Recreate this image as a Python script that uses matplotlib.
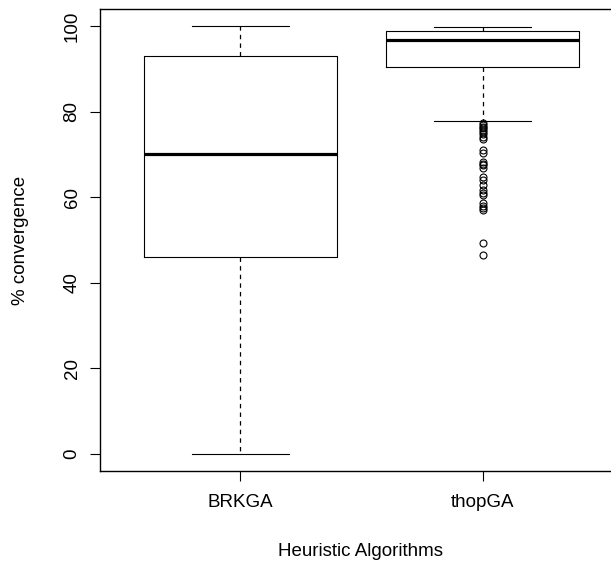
import matplotlib
matplotlib.use("Agg")
import matplotlib.pyplot as plt

plt.rcParams['font.family'] = ['Liberation Sans', 'DejaVu Sans']
plt.rcParams['lines.scale_dashes'] = False

# box statistics (% convergence)
algorithms = ['BRKGA', 'thopGA']
whisker_low = [0.0, 77.9]
q1 = [46.0, 90.6]
median = [70.2, 96.7]
q3 = [93.1, 98.9]
whisker_high = [100.0, 99.8]
brkga_outliers = []
thopga_outliers = [77.3, 76.9, 76.5, 76.1, 75.7, 75.2, 74.7, 74.2, 73.6,
                   71.1, 70.3, 68.2, 67.8, 67.6, 66.8, 64.8, 64.0, 62.9,
                   61.7, 60.9, 60.5, 58.6, 58.0, 57.5, 57.0, 49.4, 46.6]

stats = []
for i, name in enumerate(algorithms):
    stats.append(dict(label=name, whislo=whisker_low[i], q1=q1[i], med=median[i],
                      q3=q3[i], whishi=whisker_high[i],
                      fliers=[brkga_outliers, thopga_outliers][i]))

fig = plt.figure(figsize=(6.11, 5.66), dpi=100)
# plot region runs past the right edge, as in the cropped original
ax = fig.add_axes([100 / 611, (566 - 470.7) / 566, 523 / 611, 461.4 / 566])

ax.bxp(stats, positions=[1, 2], widths=0.8, patch_artist=False,
       boxprops=dict(color='black', linewidth=0.8),
       medianprops=dict(color='black', linewidth=2.3, solid_capstyle='butt'),
       whiskerprops=dict(color='black', linewidth=0.9, linestyle=(0, (3.2, 3))),
       capprops=dict(color='black', linewidth=0.8),
       flierprops=dict(marker='o', markerfacecolor='none', markeredgecolor='black',
                       markersize=5, markeredgewidth=0.8))

ax.set_xlim(0.42, 2.58)
ax.set_ylim(-4, 104)
ax.set_yticks([0, 20, 40, 60, 80, 100])
ax.set_xticks([1, 2])
ax.set_xticklabels(algorithms)
for lbl in ax.get_yticklabels():
    lbl.set_rotation(90)
    lbl.set_verticalalignment('center')

ax.tick_params(axis='both', length=7, width=0.8, labelsize=13.5, colors='black')
ax.tick_params(axis='y', pad=7)
ax.tick_params(axis='x', pad=10)
for sp in ax.spines.values():
    sp.set_linewidth(1.0)

fig.text(21 / 611, 1 - ((9.3 + 470.7) / 2) / 566, '% convergence', rotation=90,
         ha='center', va='center', fontsize=13.5)
fig.text(361 / 611, 1 - 552 / 566, 'Heuristic Algorithms', ha='center', va='center',
         fontsize=13.5)

fig.savefig('out.png', dpi=100)
